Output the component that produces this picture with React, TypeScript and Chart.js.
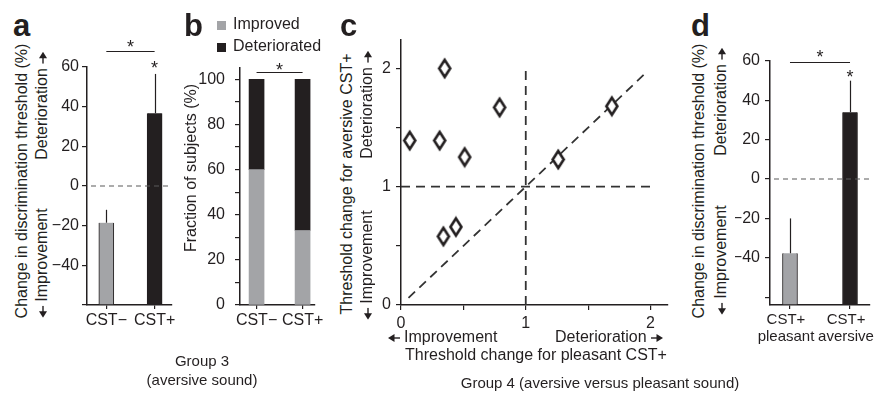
import React, { useEffect, useRef } from "react";
import { Chart, registerables } from "chart.js";

Chart.register(...registerables);

const FONT = "'Liberation Sans', Arial, Helvetica, sans-serif";
const INK = "#231f20";
const GRAY = "#a3a4a7";
const DASH = "#5a5a5a";

// ---------- Panel a : Group 3, change in threshold ----------
const A_LABELS = ["CST\u2212", "CST+"];
const A_MEANS = [-18.5, 36.7];
const A_ERR_TOP = [-12, 56.5];
const A_COLORS = [GRAY, INK];
const A_Y_TICKS = [-60, -40, -20, 0, 20, 40, 60];
const A_Y_RANGE = [-60, 60];
const A_X_RANGE = [-0.4, 1.36];
const A_BRACKET = { y: 68, starY: 72.6 };
const A_BAR_STARS = [null, 62];

// ---------- Panel b : fraction of subjects ----------
const B_LABELS = ["CST\u2212", "CST+"];
const B_SERIES = ["Improved", "Deteriorated"];
const B_COLORS = [GRAY, INK];
const B_IMPROVED = [60, 33];
const B_DETERIORATED = [40, 67];
const B_Y_TICKS = [0, 10, 20, 30, 40, 50, 60, 70, 80, 90, 100];
const B_Y_RANGE = [0, 105];
const B_X_RANGE = [-0.36, 1.27];
const B_BRACKET = { y: 103.2, starY: 106.3 };

// ---------- Panel c : scatter ----------
const C_PLEASANT = [0.07, 0.31, 0.35, 0.51, 0.79, 0.34, 0.44, 1.26, 1.69];
const C_AVERSIVE = [1.39, 1.39, 2.0, 1.25, 1.67, 0.58, 0.66, 1.23, 1.68];
const C_TICKS = [0, 0.5, 1, 1.5, 2];
const C_X_RANGE = [0, 2.14];
const C_Y_RANGE = [0, 2.24];
const C_HLINE_X = [0, 2];
const C_HLINE_Y = [1, 1];
const C_VLINE_X = [1, 1];
const C_VLINE_Y = [0, 1.98];
const C_DIAG_X = [0.06, 1.95];
const C_DIAG_Y = [0.06, 1.95];

// ---------- Panel d : Group 4, change in threshold ----------
const D_LABELS = [["CST+", "pleasant"], ["CST+", "aversive"]];
const D_MEANS = [-37.7, 34];
const D_ERR_TOP = [-20, 50];
const D_COLORS = [GRAY, INK];
const D_Y_TICKS = [-60, -40, -20, 0, 20, 40, 60];
const D_Y_RANGE = [-64, 60];
const D_X_RANGE = [-0.333, 1.333];
const D_BRACKET = { y: 59.5, starY: 64.1 };
const D_BAR_STARS = [null, 54.4];

type Box = { left: number; top: number; width: number; height: number };
type Area = { l: number; t: number; r: number; b: number };

function frame(box: Box, area: Area) {
  return {
    padding: { left: 0, top: area.t - box.top, right: box.left + box.width - area.r, bottom: 0 },
    yWidth: area.l - box.left,
    xHeight: box.top + box.height - area.b,
  };
}

const fmt = (v: number) => (v < 0 ? "\u2212" + Math.abs(v) : String(v));

function axis(
  kind: "x" | "y",
  range: number[],
  ticks: number[],
  label: (v: number) => any,
  size: number,
  tickLen: number,
  pad: number,
  fontSize = 16,
  lineHeight = 1.2,
  labelOffset = 0
) {
  return {
    type: "linear",
    min: range[0],
    max: range[1],
    offset: false,
    afterBuildTicks: (s: any) => {
      s.ticks = ticks.map((v) => ({ value: v }));
    },
    afterFit: (s: any) => {
      if (kind === "y") s.width = size;
      else s.height = size;
    },
    grid: {
      display: true,
      drawOnChartArea: false,
      drawTicks: true,
      tickLength: tickLen,
      color: INK,
      lineWidth: 1.2,
      offset: false,
    },
    border: { display: true, color: INK, width: 1.5 },
    ticks: {
      color: INK,
      font: { family: FONT, size: fontSize, lineHeight },
      padding: pad,
      labelOffset,
      autoSkip: false,
      maxRotation: 0,
      minRotation: 0,
      callback: (v: any) => label(Number(v)),
    },
  };
}

type Annot = {
  zero?: boolean;
  errors?: { x: number; from: number; to: number }[];
  bracket?: { x0: number; x1: number; y: number; starY: number };
  stars?: { x: number; y: number }[];
};

function annotations(a: Annot) {
  return {
    id: "annot",
    afterDatasetsDraw(chart: any) {
      const { ctx, chartArea, scales } = chart;
      const xs = scales.x;
      const ys = scales.y;
      ctx.save();
      if (a.zero) {
        const py = ys.getPixelForValue(0);
        ctx.strokeStyle = DASH;
        ctx.lineWidth = 1.1;
        ctx.setLineDash([5, 4]);
        ctx.beginPath();
        ctx.moveTo(chartArea.left + 4, py);
        ctx.lineTo(chartArea.right, py);
        ctx.stroke();
        ctx.setLineDash([]);
      }
      ctx.strokeStyle = INK;
      ctx.lineWidth = 1.2;
      for (const e of a.errors || []) {
        const px = Math.round(xs.getPixelForValue(e.x)) + 0.5;
        ctx.beginPath();
        ctx.moveTo(px, ys.getPixelForValue(e.from));
        ctx.lineTo(px, ys.getPixelForValue(e.to));
        ctx.stroke();
      }
      ctx.fillStyle = INK;
      ctx.font = `18px ${FONT}`;
      ctx.textAlign = "center";
      ctx.textBaseline = "alphabetic";
      const star = (x: number, y: number) => {
        ctx.fillText("*", xs.getPixelForValue(x), ys.getPixelForValue(y) + 10.5);
      };
      if (a.bracket) {
        const py = Math.round(ys.getPixelForValue(a.bracket.y)) + 0.5;
        ctx.beginPath();
        ctx.moveTo(xs.getPixelForValue(a.bracket.x0), py);
        ctx.lineTo(xs.getPixelForValue(a.bracket.x1), py);
        ctx.stroke();
        star((a.bracket.x0 + a.bracket.x1) / 2, a.bracket.starY);
      }
      for (const s of a.stars || []) star(s.x, s.y);
      ctx.restore();
    },
  };
}

function diamondImage(): HTMLCanvasElement {
  const c = document.createElement("canvas");
  c.width = 18;
  c.height = 23;
  const g = c.getContext("2d")!;
  g.beginPath();
  g.moveTo(9, 3);
  g.lineTo(14.5, 11.5);
  g.lineTo(9, 20);
  g.lineTo(3.5, 11.5);
  g.closePath();
  g.fillStyle = "#ffffff";
  g.fill();
  g.lineWidth = 2.6;
  g.lineJoin = "miter";
  g.strokeStyle = INK;
  g.stroke();
  return c;
}

const baseOptions = (f: ReturnType<typeof frame>) => ({
  responsive: false,
  animation: false,
  devicePixelRatio: 1,
  layout: { padding: f.padding },
  plugins: { legend: { display: false }, tooltip: { enabled: false } },
});

const BOX_A: Box = { left: 50, top: 20, width: 140, height: 320 };
const AREA_A: Area = { l: 87, t: 67, r: 172, b: 305 };
const BOX_B: Box = { left: 195, top: 20, width: 135, height: 320 };
const AREA_B: Area = { l: 240, t: 68, r: 315, b: 305 };
const BOX_C: Box = { left: 372, top: 15, width: 310, height: 325 };
const AREA_C: Area = { l: 401, t: 40, r: 668, b: 305 };
const BOX_D: Box = { left: 735, top: 20, width: 175, height: 345 };
const AREA_D: Area = { l: 770, t: 61, r: 870, b: 305 };

function makeA(canvas: HTMLCanvasElement) {
  const f = frame(BOX_A, AREA_A);
  return new Chart(canvas, {
    type: "bar",
    data: {
      datasets: [
        {
          data: A_MEANS.map((v, i) => ({ x: i, y: [A_Y_RANGE[0], v] })) as any,
          backgroundColor: A_COLORS,
          borderColor: INK,
          borderWidth: 1,
          borderSkipped: "start",
          barThickness: 15,
          grouped: false,
        },
      ],
    },
    options: {
      ...baseOptions(f),
      scales: {
        x: axis("x", A_X_RANGE, [0, 1], (v) => A_LABELS[v], f.xHeight, 4, 2),
        y: axis("y", A_Y_RANGE, A_Y_TICKS, (v) => (v === -60 ? "" : fmt(v)), f.yWidth, 5, 3),
      },
    } as any,
    plugins: [
      annotations({
        zero: true,
        errors: A_MEANS.map((v, i) => ({ x: i, from: v, to: A_ERR_TOP[i] })),
        bracket: { x0: 0, x1: 1, y: A_BRACKET.y, starY: A_BRACKET.starY },
        stars: A_BAR_STARS.map((s, i) => (s == null ? null : { x: i, y: s })).filter(Boolean) as any,
      }),
    ],
  });
}

function makeB(canvas: HTMLCanvasElement) {
  const f = frame(BOX_B, AREA_B);
  return new Chart(canvas, {
    type: "bar",
    data: {
      datasets: [
        {
          label: B_SERIES[0],
          data: B_IMPROVED.map((v, i) => ({ x: i, y: [0, v] })) as any,
          backgroundColor: B_COLORS[0],
          borderWidth: 0,
          barThickness: 15,
          grouped: false,
        },
        {
          label: B_SERIES[1],
          data: B_DETERIORATED.map((v, i) => ({ x: i, y: [B_IMPROVED[i], B_IMPROVED[i] + v] })) as any,
          backgroundColor: B_COLORS[1],
          borderWidth: 0,
          barThickness: 15,
          grouped: false,
        },
      ],
    },
    options: {
      ...baseOptions(f),
      scales: {
        x: axis("x", B_X_RANGE, [0, 1], (v) => B_LABELS[v], f.xHeight, 4, 2),
        y: axis("y", B_Y_RANGE, B_Y_TICKS, (v) => (v % 20 === 0 ? String(v) : ""), f.yWidth, 5, 10),
      },
    } as any,
    plugins: [annotations({ bracket: { x0: 0, x1: 1, y: B_BRACKET.y, starY: B_BRACKET.starY } })],
  });
}

function makeC(canvas: HTMLCanvasElement) {
  const f = frame(BOX_C, AREA_C);
  const dashed = (xs: number[], ys: number[]) => ({
    data: xs.map((x, i) => ({ x, y: ys[i] })),
    showLine: true,
    borderColor: "#333333",
    borderWidth: 1.8,
    borderDash: [9, 6],
    pointRadius: 0,
    fill: false,
  });
  return new Chart(canvas, {
    type: "scatter",
    data: {
      datasets: [
        {
          data: C_PLEASANT.map((x, i) => ({ x, y: C_AVERSIVE[i] })),
          pointStyle: diamondImage() as any,
          pointRadius: 8,
          showLine: false,
        },
        dashed(C_HLINE_X, C_HLINE_Y),
        dashed(C_VLINE_X, C_VLINE_Y),
        dashed(C_DIAG_X, C_DIAG_Y),
      ] as any,
    },
    options: {
      ...baseOptions(f),
      scales: {
        x: axis("x", C_X_RANGE, C_TICKS, (v) => (Number.isInteger(v) ? String(v) : ""), f.xHeight, 5, 4),
        y: axis("y", C_Y_RANGE, C_TICKS, (v) => (Number.isInteger(v) ? String(v) : ""), f.yWidth, 5, 5),
      },
    } as any,
  });
}

function makeD(canvas: HTMLCanvasElement) {
  const f = frame(BOX_D, AREA_D);
  return new Chart(canvas, {
    type: "bar",
    data: {
      datasets: [
        {
          data: D_MEANS.map((v, i) => ({ x: i, y: [D_Y_RANGE[0], v] })) as any,
          backgroundColor: D_COLORS,
          borderColor: INK,
          borderWidth: 1,
          borderSkipped: "start",
          barThickness: 15,
          grouped: false,
        },
      ],
    },
    options: {
      ...baseOptions(f),
      scales: {
        x: axis("x", D_X_RANGE, [0, 1], (v) => D_LABELS[v], f.xHeight, 4, 2, 15, 1.15, -4),
        y: axis("y", D_Y_RANGE, D_Y_TICKS, (v) => (v === -60 ? "" : fmt(v)), f.yWidth, 5, 5),
      },
    } as any,
    plugins: [
      annotations({
        zero: true,
        errors: D_MEANS.map((v, i) => ({ x: i, from: v, to: D_ERR_TOP[i] })),
        bracket: { x0: 0, x1: 1, y: D_BRACKET.y, starY: D_BRACKET.starY },
        stars: D_BAR_STARS.map((s, i) => (s == null ? null : { x: i, y: s })).filter(Boolean) as any,
      }),
    ],
  });
}

function ChartCanvas({ box, make }: { box: Box; make: (c: HTMLCanvasElement) => Chart }) {
  const ref = useRef<HTMLCanvasElement>(null);
  useEffect(() => {
    const chart = make(ref.current!);
    return () => chart.destroy();
  }, []);
  return (
    <canvas
      ref={ref}
      width={box.width}
      height={box.height}
      style={{ position: "absolute", left: box.left, top: box.top, width: box.width, height: box.height }}
    />
  );
}

// small filled arrow, pointing right (or left when flipped)
function Arrow({ left = false }: { left?: boolean }) {
  return (
    <svg
      width={12}
      height={10}
      viewBox="0 0 12 10"
      style={{
        display: "inline-block",
        verticalAlign: "middle",
        margin: left ? "0 4px 0 0" : "0 0 0 4px",
        transform: left ? "scaleX(-1)" : undefined,
      }}
    >
      <line x1={0} y1={5} x2={7} y2={5} stroke={INK} strokeWidth={1.4} />
      <polygon points="5.5,1 12,5 5.5,9" fill={INK} />
    </svg>
  );
}

// horizontal text positioned by baseline
function T({ x, y, children, size = 16, bold = false, center = false }: any) {
  return (
    <div
      style={{
        position: "absolute",
        left: x,
        top: y - 0.8465 * size,
        fontFamily: FONT,
        fontSize: size,
        lineHeight: `${size}px`,
        fontWeight: bold ? "bold" : "normal",
        color: INK,
        whiteSpace: "nowrap",
        transform: center ? "translateX(-50%)" : undefined,
      }}
    >
      {children}
    </div>
  );
}

// vertical (rotated) text positioned by its centre
function V({ x, y, children, size = 16 }: any) {
  return (
    <div
      style={{
        position: "absolute",
        left: x,
        top: y,
        fontFamily: FONT,
        fontSize: size,
        lineHeight: `${size}px`,
        color: INK,
        whiteSpace: "nowrap",
        transform: "translate(-50%, -50%) rotate(-90deg)",
      }}
    >
      {children}
    </div>
  );
}

export default function App() {
  return (
    <div
      style={{
        position: "absolute",
        left: 0,
        top: 0,
        width: 882,
        height: 393,
        overflow: "hidden",
        background: "#ffffff",
      }}
    >
      <ChartCanvas box={BOX_A} make={makeA} />
      <ChartCanvas box={BOX_B} make={makeB} />
      <ChartCanvas box={BOX_C} make={makeC} />
      <ChartCanvas box={BOX_D} make={makeD} />

      {/* panel letters */}
      <T x={13} y={36} size={31} bold>a</T>
      <T x={184} y={36} size={31} bold>b</T>
      <T x={340} y={36} size={31} bold>c</T>
      <T x={691} y={36} size={31} bold>d</T>

      {/* panel a axis titles */}
      <V x={22} y={181}>Change in discrimination threshold (%)</V>
      <V x={42} y={106}>Deterioration<Arrow /></V>
      <V x={42} y={263}><Arrow left />Improvement</V>

      {/* panel b */}
      <V x={191} y={168}>Fraction of subjects (%)</V>
      {B_SERIES.map((s, i) => (
        <React.Fragment key={s}>
          <div
            style={{
              position: "absolute",
              left: 217,
              top: 21 + i * 22,
              width: 9,
              height: 9,
              background: B_COLORS[i],
            }}
          />
          <T x={233} y={30 + i * 22}>{s}</T>
        </React.Fragment>
      ))}

      {/* panel c */}
      <V x={347} y={184}>Threshold change for aversive CST+</V>
      <V x={367} y={105}>Deterioration<Arrow /></V>
      <V x={367} y={265}><Arrow left />Improvement</V>
      <T x={388} y={343}><Arrow left />Improvement</T>
      <T x={555} y={343}>Deterioration<Arrow /></T>
      <T x={405} y={361}>Threshold change for pleasant CST+</T>

      {/* panel d */}
      <V x={699} y={181}>Change in discrimination threshold (%)</V>
      <V x={721} y={102}>Deterioration<Arrow /></V>
      <V x={721} y={260}><Arrow left />Improvement</V>

      {/* group captions */}
      <T x={202} y={366} size={15} center>Group 3</T>
      <T x={202} y={385} size={15} center>(aversive sound)</T>
      <T x={600} y={388} size={15} center>Group 4 (aversive versus pleasant sound)</T>
    </div>
  );
}
